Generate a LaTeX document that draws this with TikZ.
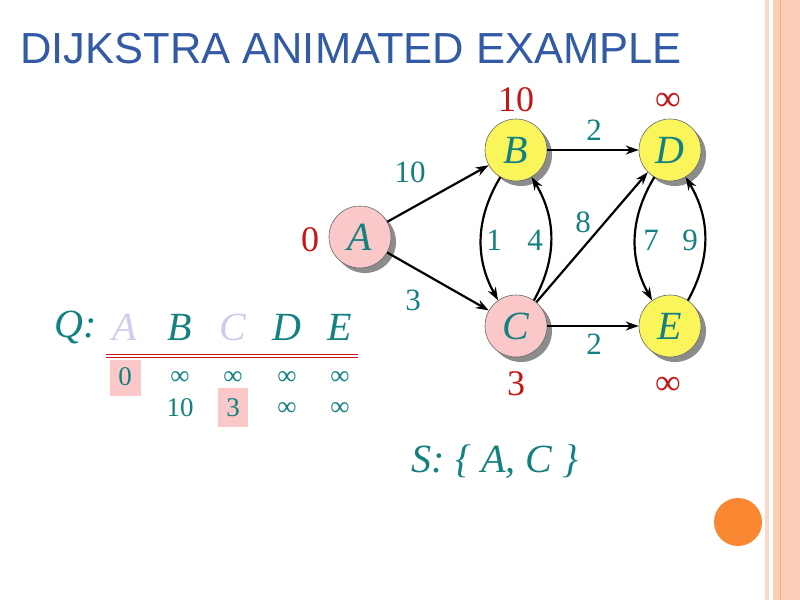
\documentclass[tikz,border=0pt]{standalone}
\usepackage{fontspec}
\setmainfont{Liberation Serif}
\newfontfamily\titlefont{Liberation Sans}
\usetikzlibrary{arrows.meta}
\definecolor{teal2}{RGB}{20,128,128}
\definecolor{red2}{RGB}{200,20,20}
\definecolor{pinkn}{RGB}{250,200,200}
\definecolor{yel}{RGB}{250,245,90}
\definecolor{lav}{RGB}{205,205,235}
\definecolor{band}{RGB}{252,205,185}
\definecolor{titleblue}{RGB}{50,90,165}
\definecolor{orng}{RGB}{250,135,50}
\begin{document}
\begin{tikzpicture}[x=1pt,y=-1pt,
  vtx/.style={circle,draw=black!60,line width=0.6pt,minimum size=62pt,inner sep=0pt,font=\fontsize{40}{40}\selectfont\itshape,text=teal2},
  edge/.style={-{Stealth[length=13pt,width=9pt]},line width=2.2pt},
  wt/.style={text=teal2,font=\fontsize{31}{31}\selectfont},
  dist/.style={text=red2,font=\fontsize{36}{36}\selectfont},
  tab/.style={text=teal2,font=\fontsize{27}{27}\selectfont},
  hd/.style={font=\fontsize{40}{40}\selectfont\itshape,text=teal2}]
\useasboundingbox (0,0) rectangle (800,600);
\fill[white] (0,0) rectangle (800,600);
% right border
\fill[band!80] (765,0) rectangle (769,600);
\fill[band] (773,0) rectangle (800,600);
\draw[band!60!orange,line width=0.8pt] (780,0) -- (780,600);
\fill[orng] (738,522) circle (24);
% title
\node[anchor=base west,inner sep=0pt,text=titleblue,font=\titlefont\fontsize{43.5}{43.5}\selectfont] (title) at (20,63) {DIJKSTRA ANIMATED EXAMPLE};
% shadows
\foreach \p in {(360,237),(516,150),(516,326),(670,150),(670,326)}
  \fill[black!45] \p ++(5,5) circle (31);
\node[vtx,fill=pinkn] (A) at (360,237) {A};
\node[vtx,fill=yel] (B) at (516,150) {B};
\node[vtx,fill=pinkn] (C) at (516,326) {C};
\node[vtx,fill=yel] (D) at (670,150) {D};
\node[vtx,fill=yel] (E) at (670,326) {E};
\draw[edge] (A) -- (B);
\draw[edge] (A) -- (C);
\draw[edge] (B) -- (D);
\draw[edge] (C) -- (E);
\draw[edge] (C) -- (D.225);
\draw[edge] (B.240) to[bend right=30] (C.125);
\draw[edge] (C.55) to[bend right=30] (B.300);
\draw[edge] (D.240) to[bend right=30] (E.125);
\draw[edge] (E.55) to[bend right=30] (D.300);
% weights
\node[wt] (w1) at (410,172) {10};
\node[wt] (w2) at (413,300) {3};
\node[wt] (w3) at (594,130) {2};
\node[wt] (w4) at (494,240) {1};
\node[wt] (w5) at (535,240) {4};
\node[wt] (w6) at (583,222) {8};
\node[wt] (w7) at (651,240) {7};
\node[wt] (w8) at (690,240) {9};
\node[wt] (w9) at (594,344) {2};
% distances
\node[dist] (dB) at (516,100) {10};
\node[dist] (dD) at (668,102) {∞};
\node[dist] (dA) at (310,240) {0};
\node[dist] (dC) at (516,384) {3};
\node[dist] (dE) at (668,386) {∞};
% table
\fill[pinkn] (110,360) rectangle (141,396);
\fill[pinkn] (218,388) rectangle (248,427);
\node[hd] (Q) at (76,327) {Q:};
\node[hd,text=lav] (hA) at (125,327) {A};
\node[hd] (hB) at (180,327) {B};
\node[hd,text=lav] (hC) at (233,327) {C};
\node[hd] (hD) at (287,327) {D};
\node[hd] (hE) at (340,327) {E};
\draw[red2,line width=1pt] (106,354) -- (358,354);
\draw[red2,line width=1pt] (106,357.5) -- (358,357.5);
\node[tab] (r1a) at (125,377) {0};
\node[tab] (r1b) at (180,378) {∞};
\node[tab] (r1c) at (233,378) {∞};
\node[tab] (r1d) at (287,378) {∞};
\node[tab] (r1e) at (340,378) {∞};
\node[tab] (r2b) at (180,408) {10};
\node[tab] (r2c) at (233,408) {3};
\node[tab] (r2d) at (287,409) {∞};
\node[tab] (r2e) at (340,409) {∞};
\node[hd] (S) at (495,462) {S: \{ A, C \}};
\end{tikzpicture}
\end{document}
